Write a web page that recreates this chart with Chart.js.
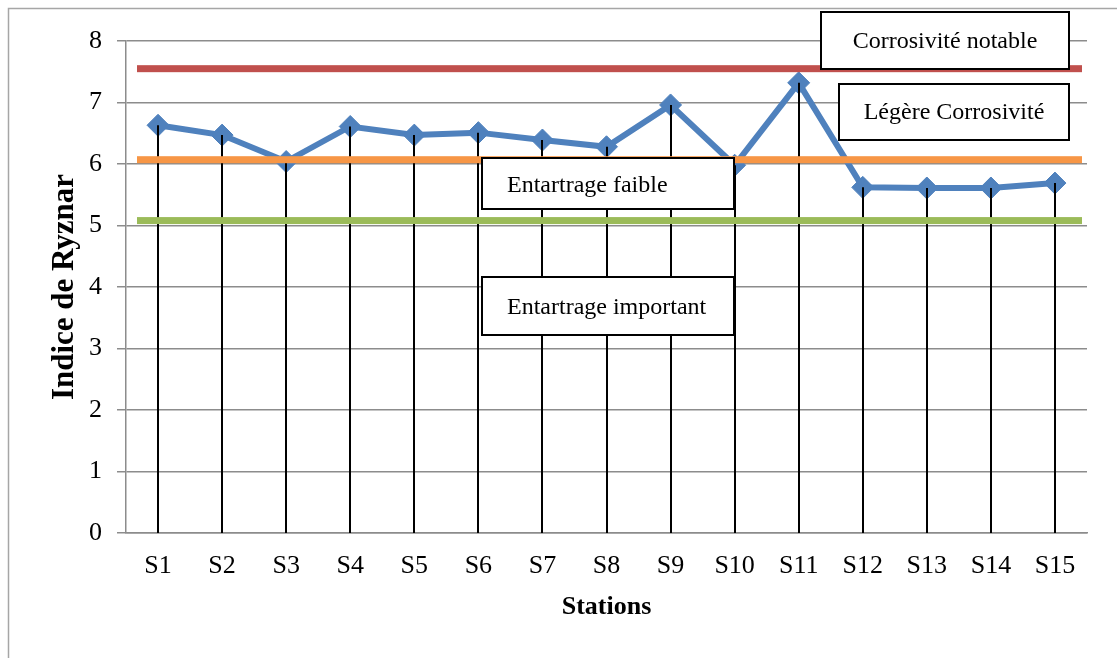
<!DOCTYPE html>
<html>
<head>
<meta charset="utf-8">
<script src="https://cdn.jsdelivr.net/npm/chart.js@4.4.1/dist/chart.umd.min.js"></script>
<style>
  html,body{margin:0;padding:0;background:#fff;}
  #wrap{position:relative;width:1117px;height:658px;}
</style>
</head>
<body>
<div id="wrap"><canvas id="ryznarChart" width="1117" height="658"></canvas></div>
<script>
// ── data ────────────────────────────────────────────────────────────────────
const stations = ['S1','S2','S3','S4','S5','S6','S7','S8','S9','S10','S11','S12','S13','S14','S15'];
const ryznar   = [6.63,6.47,6.04,6.61,6.47,6.51,6.39,6.28,6.96,5.98,7.32,5.62,5.61,5.61,5.69];
const seuilVals   = [7.55, 6.07, 5.08];           // limites de classes (traits horizontaux)
const seuilColors = ['#C0504D','#F79646','#9BBB59'];
const yMin = 0, yMax = 8, yStep = 1;
const zoneLabels = ['Corrosivité notable','Légère Corrosivité','Entartrage faible','Entartrage important'];

const SERIF = '"Liberation Serif","Times New Roman",serif';
const BLUE  = '#4F81BD';
const GRID  = '#8c8c8c';

// text boxes (Excel shapes) — pixel layout only
const boxLayout = [
  {x:821,y:12, w:248,h:57,align:'center'},
  {x:839,y:84, w:230,h:56,align:'center'},
  {x:482,y:158,w:252,h:51,align:'left'},
  {x:482,y:277,w:252,h:58,align:'left'},
];

// ── plugins ────────────────────────────────────────────────────────────────
const frame = {
  id:'frame',
  beforeDraw(c){
    const ctx=c.ctx; ctx.save();
    ctx.strokeStyle='#a6a6a6'; ctx.lineWidth=1.5;
    ctx.beginPath(); ctx.moveTo(8.5,c.height+2); ctx.lineTo(8.5,8.5); ctx.lineTo(c.width+2,8.5); ctx.stroke();
    ctx.restore();
  }
};

// drop lines (marker centre -> 0 axis), then class limits, then the label boxes
const overlays = {
  id:'overlays',
  afterDatasetsDraw(c){
    const ctx=c.ctx, a=c.chartArea, y=c.scales.y, meta=c.getDatasetMeta(0);
    const y0=y.getPixelForValue(0);
    ctx.save();
    ctx.strokeStyle='#000'; ctx.lineWidth=2;
    meta.data.forEach(pt=>{
      ctx.beginPath(); ctx.moveTo(Math.round(pt.x),pt.y); ctx.lineTo(Math.round(pt.x),y0); ctx.stroke();
    });
    seuilVals.forEach((v,i)=>{
      const py=y.getPixelForValue(v);
      ctx.fillStyle=seuilColors[i];
      ctx.fillRect(a.left+11, py-3.5, (a.right-5)-(a.left+11), 7);
    });
    ctx.font='24px '+SERIF; ctx.textBaseline='middle';
    zoneLabels.forEach((t,i)=>{
      const b=boxLayout[i];
      ctx.fillStyle='#fff'; ctx.fillRect(b.x,b.y,b.w,b.h);
      ctx.strokeStyle='#000'; ctx.lineWidth=2; ctx.strokeRect(b.x,b.y,b.w,b.h);
      ctx.fillStyle='#000';
      if(b.align==='center'){ ctx.textAlign='center'; ctx.fillText(t,b.x+b.w/2,b.y+b.h/2+1); }
      else { ctx.textAlign='left'; ctx.fillText(t,b.x+25,b.y+b.h/2+2); }
    });
    ctx.restore();
  }
};

new Chart(document.getElementById('ryznarChart'),{
  type:'line',
  data:{labels:stations,datasets:[{
    label:'Indice de Ryznar',data:ryznar,borderColor:BLUE,backgroundColor:BLUE,borderWidth:6,tension:0,
    pointStyle:'rectRot',pointRadius:11,pointBorderWidth:1,pointBorderColor:BLUE,pointBackgroundColor:BLUE,pointHoverRadius:11
  }]},
  options:{
    responsive:false,animation:false,events:[],
    layout:{padding:{left:0,top:41,right:30,bottom:0}},
    plugins:{legend:{display:false},tooltip:{enabled:false}},
    scales:{
      x:{offset:true,
        grid:{display:false,drawTicks:false},
        border:{display:true,color:GRID,width:1.5},
        ticks:{color:'#000',padding:18,font:{family:SERIF,size:26}},
        title:{display:true,text:'Stations',color:'#000',font:{family:SERIF,size:26,weight:'bold'},padding:{top:4,bottom:35}},
        afterFit:s=>{s.height=125;}
      },
      y:{min:yMin,max:yMax,
        grid:{color:GRID,lineWidth:1.5,tickLength:9},
        border:{display:true,color:GRID,width:1.5},
        ticks:{stepSize:yStep,color:'#000',padding:15,font:{family:SERIF,size:26}},
        title:{display:true,text:'Indice de Ryznar',color:'#000',font:{family:SERIF,size:31,weight:'bold'},padding:{top:46}},
        afterFit:s=>{s.width=126;}
      }
    }
  },
  plugins:[frame,overlays]
});
</script>
</body>
</html>
